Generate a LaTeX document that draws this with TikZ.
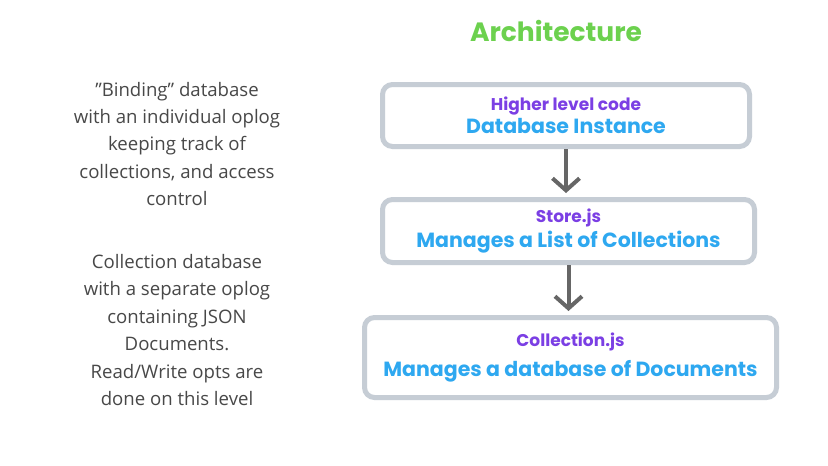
\documentclass[tikz,border=0pt]{standalone}
\usepackage{fontspec}
\setmainfont{Open Sans}
\newfontfamily\boxfont{Poppins}
\usetikzlibrary{arrows.meta}
\definecolor{titlegreen}{HTML}{6CD14E}
\definecolor{headpurple}{HTML}{7B3FE4}
\definecolor{mainblue}{HTML}{2EA8F0}
\definecolor{boxgray}{HTML}{C6CDD5}
\definecolor{arrowgray}{HTML}{666666}
\definecolor{notegray}{HTML}{484848}

\begin{document}
\begin{tikzpicture}[x=1pt,y=-1pt,
    layer/.style={draw=boxgray,line width=5pt,rounded corners=10pt,fill=white,
                  inner sep=0pt,align=center},
    arr/.style={draw=arrowgray,line width=4pt,shorten >=4pt,
                -{Straight Barb[length=12pt,width=27pt,line width=4pt]}},
    note/.style={align=center,text=notegray,font=\fontsize{18.6}{27.4}\selectfont}]
       
       \fill[white] (0,0) rectangle (828,466);
       \useasboundingbox (0,0) rectangle (828,466);
       
       \node (title) at (556,31) {\boxfont\bfseries\fontsize{26.5}{30}\selectfont\color{titlegreen}Architecture};
       
       % the three layers
       \node[layer,minimum width=367pt,minimum height=62pt] (higher) at (566,115.5)
       {{\boxfont\bfseries\fontsize{17}{20}\selectfont\color{headpurple}Higher level code}\\[2pt]
        {\boxfont\bfseries\fontsize{20.5}{24}\selectfont\color{mainblue}Database Instance}};
       \node[layer,minimum width=372pt,minimum height=63pt] (store) at (568.5,231)
       {{\boxfont\bfseries\fontsize{17}{20}\selectfont\color{headpurple}Store.js}\\[3pt]
        {\boxfont\bfseries\fontsize{20.5}{24}\selectfont\color{mainblue}Manages a List of Collections}};
       \node[layer,minimum width=412pt,minimum height=80pt] (coll) at (570.5,357.5)
       {{\boxfont\bfseries\fontsize{17}{20}\selectfont\color{headpurple}Collection.js}\\[9pt]
        {\boxfont\bfseries\fontsize{20.5}{24}\selectfont\color{mainblue}Manages a database of Documents}};
       
       \draw[arr] (higher.south) -- (higher.south |- store.north);
       \draw[arr] (store.south) -- (store.south |- coll.north);
       
       % notes on the left
       \node[note] (bindnote) at (177,144) {\symbol{34}Binding\symbol{34} database\\with an individual oplog\\keeping track of\\collections, and access\\control};
       \node[note] (collnote) at (177,330) {Collection database\\with a separate oplog\\containing JSON\\Documents.\\Read/Write opts are\\done on this level};
       
\end{tikzpicture}
\end{document}
